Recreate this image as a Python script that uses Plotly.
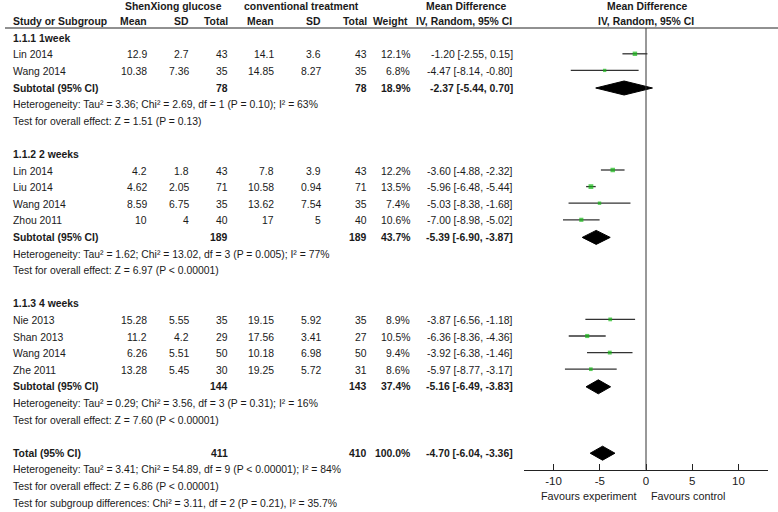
import plotly.graph_objects as go

# ---------------- data ----------------
studies = ["Lin 2014", "Wang 2014", "Lin 2014", "Liu 2014", "Wang 2014", "Zhou 2011",
           "Nie 2013", "Shan 2013", "Wang 2014", "Zhe 2011"]
study_group = [0, 0, 1, 1, 1, 1, 2, 2, 2, 2]
exp_mean = [12.9, 10.38, 4.2, 4.62, 8.59, 10, 15.28, 11.2, 6.26, 13.28]
exp_sd = [2.7, 7.36, 1.8, 2.05, 6.75, 4, 5.55, 4.2, 5.51, 5.45]
exp_n = [43, 35, 43, 71, 35, 40, 35, 29, 50, 30]
ctl_mean = [14.1, 14.85, 7.8, 10.58, 13.62, 17, 19.15, 17.56, 10.18, 19.25]
ctl_sd = [3.6, 8.27, 3.9, 0.94, 7.54, 5, 5.92, 3.41, 6.98, 5.72]
ctl_n = [43, 35, 43, 71, 35, 40, 35, 27, 50, 31]
weight = [12.1, 6.8, 12.2, 13.5, 7.4, 10.6, 8.9, 10.5, 9.4, 8.6]
md = [-1.20, -4.47, -3.60, -5.96, -5.03, -7.00, -3.87, -6.36, -3.92, -5.97]
md_lo = [-2.55, -8.14, -4.88, -6.48, -8.38, -8.98, -6.56, -8.36, -6.38, -8.77]
md_hi = [0.15, -0.80, -2.32, -5.44, -1.68, -5.02, -1.18, -4.36, -1.46, -3.17]

sub_names = ["1.1.1 1week", "1.1.2 2 weeks", "1.1.3 4 weeks"]
sub_exp_n = [78, 189, 144]
sub_ctl_n = [78, 189, 143]
sub_weight = [18.9, 43.7, 37.4]
sub_md = [-2.37, -5.39, -5.16]
sub_lo = [-5.44, -6.90, -6.49]
sub_hi = [0.70, -3.87, -3.83]
sub_het = ["Heterogeneity: Tau² = 3.36; Chi² = 2.69, df = 1 (P = 0.10); I² = 63%",
           "Heterogeneity: Tau² = 1.62; Chi² = 13.02, df = 3 (P = 0.005); I² = 77%",
           "Heterogeneity: Tau² = 0.29; Chi² = 3.56, df = 3 (P = 0.31); I² = 16%"]
sub_test = ["Test for overall effect: Z = 1.51 (P = 0.13)",
            "Test for overall effect: Z = 6.97 (P < 0.00001)",
            "Test for overall effect: Z = 7.60 (P < 0.00001)"]

total_exp_n = 411
total_ctl_n = 410
total_weight = 100.0
total_md = -4.70
total_lo = -6.04
total_hi = -3.36
total_het = "Heterogeneity: Tau² = 3.41; Chi² = 54.89, df = 9 (P < 0.00001); I² = 84%"
total_test = "Test for overall effect: Z = 6.86 (P < 0.00001)"
subgroup_test = "Test for subgroup differences: Chi² = 3.11, df = 2 (P = 0.21), I² = 35.7%"

tick_vals = [-10, -5, 0, 5, 10]
tick_text = ["-10", "-5", "0", "5", "10"]
favours_left = "Favours experiment"
favours_right = "Favours control"

# ---------------- layout helpers ----------------
W, H = 778, 512
FONT = "Liberation Sans Narrow, Arial Narrow, Liberation Sans, Arial, sans-serif"
FS = 10.4
TXT = "#1a1a1a"
PITCH = 16.6
Y0 = 5.0


def row_y(k):
    return Y0 + PITCH * k


# column right edges (pixels)
C_NAME = 11
C_EM, C_ESD, C_EN = 149, 191, 230
C_CM, C_CSD, C_CN = 276, 323, 369
C_W, C_CI = 412, 515

annots = []


def txt(x, y, s, anchor="right", bold=False, size=FS):
    annots.append(dict(x=x, y=y, xref="x", yref="y", text=("<b>%s</b>" % s) if bold else s,
                       showarrow=False, xanchor=anchor, yanchor="middle",
                       font=dict(family=FONT, size=size, color=TXT)))


def fmt(v):
    return "%g" % v


def ci_str(m, l, h):
    return "%.2f [%.2f, %.2f]" % (m, l, h)


# headers
txt(173, row_y(0) + 1, "ShenXiong glucose", "center", True)
txt(301, row_y(0) + 1, "conventional treatment", "center", True)
txt(466, row_y(0) + 1, "Mean Difference", "center", True)
txt(647, row_y(0) + 1, "Mean Difference", "center", True)
hy = row_y(1)
txt(C_NAME, hy, "Study or Subgroup", "left", True)
for x, s in [(C_EM, "Mean"), (C_ESD, "SD"), (C_EN, "Total"), (C_CM, "Mean"),
             (C_CSD, "SD"), (C_CN, "Total"), (C_W - 2, "Weight"), (C_CI - 1, "IV, Random, 95% CI")]:
    txt(x, hy, s, "right", True)
txt(646, hy, "IV, Random, 95% CI", "center", True)

# rows
ci_x, ci_y = [], []
sq_x, sq_y, sq_s = [], [], []
dia_x, dia_y = [], []
DH = 7.0

k = 2
for g in range(len(sub_names)):
    txt(C_NAME, row_y(k), sub_names[g], "left", True)
    k += 1
    for i in range(len(studies)):
        if study_group[i] != g:
            continue
        y = row_y(k)
        txt(C_NAME, y, studies[i], "left")
        txt(C_EM, y, fmt(exp_mean[i]))
        txt(C_ESD, y, fmt(exp_sd[i]))
        txt(C_EN, y, str(exp_n[i]))
        txt(C_CM, y, fmt(ctl_mean[i]))
        txt(C_CSD, y, fmt(ctl_sd[i]))
        txt(C_CN, y, str(ctl_n[i]))
        txt(C_W, y, "%.1f%%" % weight[i])
        txt(C_CI, y, ci_str(md[i], md_lo[i], md_hi[i]))
        ci_x += [md_lo[i], md_hi[i], None]
        ci_y += [y - 1, y - 1, None]
        sq_x.append(md[i])
        sq_y.append(y - 1)
        sq_s.append(1.8 + weight[i] * 0.22)
        k += 1
    y = row_y(k)
    txt(C_NAME, y, "Subtotal (95% CI)", "left", True)
    txt(C_EN, y, str(sub_exp_n[g]), "right", True)
    txt(C_CN, y, str(sub_ctl_n[g]), "right", True)
    txt(C_W, y, "%.1f%%" % sub_weight[g], "right", True)
    txt(C_CI, y, ci_str(sub_md[g], sub_lo[g], sub_hi[g]), "right", True)
    dia_x += [sub_lo[g], sub_md[g], sub_hi[g], sub_md[g], sub_lo[g], None]
    dia_y += [y, y - DH, y, y + DH, y, None]
    k += 1
    txt(C_NAME, row_y(k), sub_het[g], "left")
    k += 1
    txt(C_NAME, row_y(k), sub_test[g], "left")
    k += 2

y = row_y(k)
txt(C_NAME, y, "Total (95% CI)", "left", True)
txt(C_EN, y, str(total_exp_n), "right", True)
txt(C_CN, y, str(total_ctl_n), "right", True)
txt(C_W, y, "%.1f%%" % total_weight, "right", True)
txt(C_CI, y, ci_str(total_md, total_lo, total_hi), "right", True)
dia_x += [total_lo, total_md, total_hi, total_md, total_lo, None]
dia_y += [y, y - DH, y, y + DH, y, None]
k += 1
txt(C_NAME, row_y(k), total_het, "left")
axis_y = row_y(k)
k += 1
txt(C_NAME, row_y(k), total_test, "left")
k += 1
txt(C_NAME, row_y(k), subgroup_test, "left")

# favours labels
txt(638, 496, favours_left, "right", size=10.8)
txt(649, 496, favours_right, "left", size=10.8)

fig = go.Figure()
fig.add_trace(go.Scatter(x=ci_x, y=ci_y, xaxis="x2", yaxis="y", mode="lines",
                         line=dict(color="#333333", width=1.3), hoverinfo="skip", showlegend=False))
fig.add_trace(go.Scatter(x=sq_x, y=sq_y, xaxis="x2", yaxis="y", mode="markers",
                         marker=dict(symbol="square", color="#16b816", size=sq_s, line=dict(width=0)),
                         showlegend=False))
fig.add_trace(go.Scatter(x=dia_x, y=dia_y, xaxis="x2", yaxis="y", mode="lines", fill="toself",
                         fillcolor="black", line=dict(color="black", width=1), showlegend=False))

X_L, X_R = 524, 768
fig.update_layout(
    width=W, height=H, margin=dict(l=0, r=0, t=0, b=0),
    paper_bgcolor="white", plot_bgcolor="rgba(0,0,0,0)",
    showlegend=False,
    xaxis=dict(range=[0, W], domain=[0, 1], visible=False, fixedrange=True),
    yaxis=dict(range=[H, 0], domain=[0, 1], visible=False, fixedrange=True),
    xaxis2=dict(range=[-13.2, 13.2], domain=[X_L / W, X_R / W], anchor="free",
                position=(H - axis_y) / H, showline=True, linecolor="#222222", linewidth=1,
                ticks="inside", ticklen=6, tickcolor="#222222", tickvals=tick_vals, ticktext=tick_text,
                tickfont=dict(family=FONT, size=11.5, color=TXT), showgrid=False, zeroline=False),
    annotations=annots,
    shapes=[
        dict(type="line", xref="x", yref="y", x0=5, x1=W, y0=28, y1=28,
             line=dict(color="#222222", width=1)),
        dict(type="line", xref="x2", yref="y", x0=0, x1=0, y0=28, y1=axis_y,
             line=dict(color="#333333", width=1)),
    ],
)

fig.write_html("out.html", config={"displayModeBar": False},
               post_script="document.body.style.margin='0';")
